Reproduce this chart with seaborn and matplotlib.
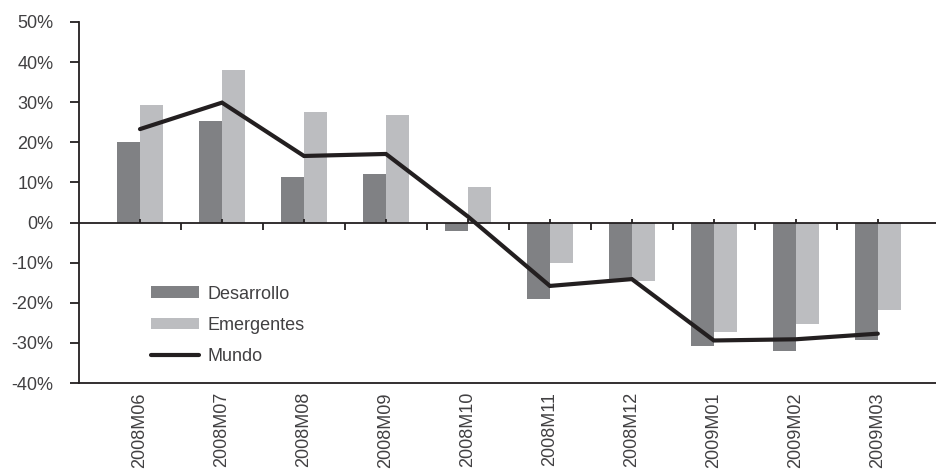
import numpy as np
import pandas as pd
import matplotlib
matplotlib.use("Agg")
import matplotlib.pyplot as plt
import seaborn as sns
from matplotlib.patches import Patch
from matplotlib.lines import Line2D

# Monthly year-on-year growth (%)
months = ["2008M06", "2008M07", "2008M08", "2008M09", "2008M10",
          "2008M11", "2008M12", "2009M01", "2009M02", "2009M03"]
desarrollo = [20.0, 25.4, 11.4, 12.1, -2.0, -19.0, -14.3, -30.7, -31.9, -29.2]
emergentes = [29.4, 38.1, 27.6, 26.9, 8.9, -10.0, -14.5, -27.4, -25.4, -21.9]
mundo = [23.3, 29.9, 16.6, 17.1, 1.5, -15.8, -14.1, -29.4, -29.1, -27.7]
bar_series = ["Desarrollo", "Emergentes"]
line_series = "Mundo"
y_ticks = [-40, -30, -20, -10, 0, 10, 20, 30, 40, 50]

DARK = "#808184"
LIGHT = "#bcbdc0"
INK = "#231f20"
TEXT = "#414042"

sns.set_theme(style="white")
plt.rcParams["font.family"] = ["Liberation Sans", "DejaVu Sans"]

df = pd.DataFrame({
    "mes": months * 2,
    "serie": [bar_series[0]] * len(months) + [bar_series[1]] * len(months),
    "valor": desarrollo + emergentes,
})

fig = plt.figure(figsize=(9.36, 4.70), dpi=100)
ax = fig.add_axes([79 / 936, 1 - 383 / 470, 1 - 79 / 936, (383 - 22) / 470])

sns.barplot(data=df, x="mes", y="valor", hue="serie", order=months,
            hue_order=bar_series, palette=[DARK, LIGHT], width=0.56,
            saturation=1, errorbar=None, linewidth=0, legend=False, ax=ax)

xpos = np.arange(len(months))
sns.lineplot(x=xpos, y=mundo, color=INK, linewidth=3.0, ax=ax,
             solid_joinstyle="miter")

# zero baseline with its category ticks
ax.axhline(0, color=INK, linewidth=1.3, zorder=3)
ax.vlines(xpos, 0, 1.0, color=INK, linewidth=1.3, zorder=3)
ax.vlines(xpos[:-1] + 0.5, -1.75, 0, color=INK, linewidth=1.3, zorder=3)

ax.set_xlim(-0.744, 9.71)
ax.set_ylim(-40, 50)
ax.set_yticks(y_ticks)
ax.set_yticklabels([f"{v}%" for v in y_ticks])
ax.set_xticks(xpos)
ax.set_xticklabels(months, rotation=90, va="top", ha="center")
ax.set_xlabel("")
ax.set_ylabel("")

ax.tick_params(axis="x", length=0, pad=6.5, labelsize=13, labelcolor=TEXT)
ax.tick_params(axis="y", length=6.5, width=1.3, color=INK, pad=12,
               left=True, direction="out", labelsize=13, labelcolor=TEXT)

for side in ("top", "right"):
    ax.spines[side].set_visible(False)
for side in ("left", "bottom"):
    ax.spines[side].set_color(INK)
    ax.spines[side].set_linewidth(1.3)

handles = [Patch(facecolor=DARK, edgecolor="none"),
           Patch(facecolor=LIGHT, edgecolor="none"),
           Line2D([], [], color=INK, linewidth=3.0)]
labels = bar_series + [line_series]
ax.legend(handles, labels, loc="upper left", bbox_to_anchor=(0.084, 0.27),
          frameon=False, fontsize=13, labelcolor=TEXT, borderaxespad=0,
          borderpad=0, handlelength=2.67, handleheight=0.6,
          handletextpad=0.45, labelspacing=0.8)

fig.savefig("out.png", dpi=100)
